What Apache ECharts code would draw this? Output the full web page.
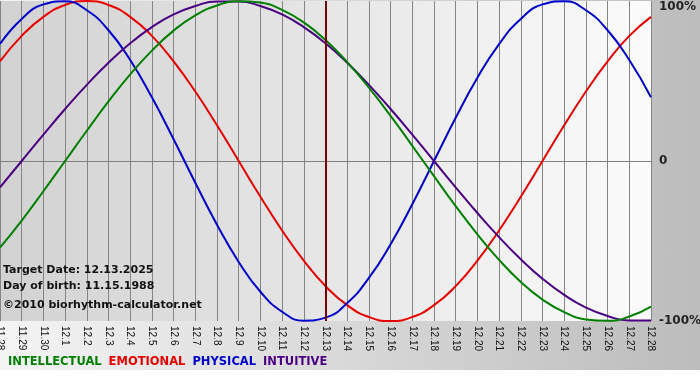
<!DOCTYPE html>
<html>
<head>
<meta charset="utf-8">
<script src="https://cdn.jsdelivr.net/npm/echarts@6/dist/echarts.min.js"></script>
<style>
  html, body { margin: 0; padding: 0; background: #fff; }
  #chart {
    width: 700px; height: 380px;
    background: linear-gradient(to right, #f4f4f4, #bcbcbc) 0 0 / 100% 370px no-repeat, #fff;
  }
</style>
</head>
<body>
<div id="chart"></div>
<script>
// 日期 (x 轴)
var days = ['11.28','11.29','11.30','12.1','12.2','12.3','12.4','12.5','12.6','12.7','12.8',
            '12.9','12.10','12.11','12.12','12.13','12.14','12.15','12.16','12.17','12.18',
            '12.19','12.20','12.21','12.22','12.23','12.24','12.25','12.26','12.27','12.28'];
var targetDay = '12.13';

// 各周期数值 (%)
var intellectual = [-54.1,-37.2,-18.9,0,18.9,37.2,54.1,69.0,81.5,91.0,97.2,99.9,99.0,94.5,86.6,
                    75.6,61.8,45.8,28.2,9.5,-9.5,-28.2,-45.8,-61.8,-75.6,-86.6,-94.5,-99.0,
                    -99.9,-97.2,-91.0];
var emotional = [62.3,78.2,90.1,97.5,100,97.5,90.1,78.2,62.3,43.4,22.3,0,-22.3,-43.4,-62.3,
                 -78.2,-90.1,-97.5,-100,-97.5,-90.1,-78.2,-62.3,-43.4,-22.3,0,22.3,43.4,
                 62.3,78.2,90.1];
var physical = [73.1,88.8,97.9,99.8,94.2,81.7,63.1,39.8,13.6,-13.6,-39.8,-63.1,-81.7,-94.2,
                -99.8,-97.9,-88.8,-73.1,-52.0,-27.0,0,27.0,52.0,73.1,88.8,97.9,99.8,94.2,
                81.7,63.1,39.8];
var intuitive = [-16.5,0,16.5,32.5,47.6,61.4,73.6,83.7,91.6,96.9,99.7,99.7,96.9,91.6,83.7,
                 73.6,61.4,47.6,32.5,16.5,0,-16.5,-32.5,-47.6,-61.4,-73.6,-83.7,-91.6,
                 -96.9,-99.7,-99.7];

var seriesNames = ['INTELLECTUAL','EMOTIONAL','PHYSICAL','INTUITIVE'];
var seriesColors = ['#008000','#e80000','#0000cc','#4b0082'];
var yTicks = [-100, 0, 100];

var infoLines = ['Target Date: 12.13.2025', 'Day of birth: 11.15.1988', '\u00a92010 biorhythm-calculator.net'];

var chart = echarts.init(document.getElementById('chart'));

function lineSeries(idx, data) {
    return {
        name: seriesNames[idx],
        type: 'line',
        data: data,
        smooth: 0.5,
        symbol: 'none',
        clip: false,
        lineStyle: { color: seriesColors[idx], width: 2 },
        itemStyle: { color: seriesColors[idx] }
    };
}

var sPhys = lineSeries(2, physical);
var sEmo = lineSeries(1, emotional);
var sInt = lineSeries(0, intellectual);
var sIntu = lineSeries(3, intuitive);
// 当天竖线
sInt.markLine = {
    silent: true,
    symbol: 'none',
    label: { show: false },
    lineStyle: { color: '#800000', width: 2, type: 'solid' },
    data: [{ xAxis: targetDay }]
};

var option = {
    animation: false,
    backgroundColor: 'transparent',
    grid: {
        left: 0, right: 49, top: 1, bottom: 59,
        outerBoundsMode: 'none',
        containLabel: false,
        show: true,
        borderWidth: 0,
        backgroundColor: new echarts.graphic.LinearGradient(0, 0, 1, 0, [
            { offset: 0, color: '#d2d2d2' },
            { offset: 1, color: '#fbfbfb' }
        ])
    },
    legend: {
        left: 3,
        top: 356,
        padding: 0,
        icon: 'none',
        itemWidth: 0,
        itemHeight: 10,
        itemGap: 2,
        selectedMode: false,
        textStyle: { fontFamily: 'DejaVu Sans', fontWeight: 'bold', fontSize: 11.5 },
        data: seriesNames.map(function (n, i) {
            return { name: n, textStyle: { color: seriesColors[i] } };
        })
    },
    xAxis: {
        type: 'category',
        data: days,
        boundaryGap: false,
        axisLine: { lineStyle: { color: '#808080', width: 1 } },
        axisTick: { show: true, length: 4, lineStyle: { color: '#808080' } },
        splitLine: { show: true, lineStyle: { color: '#858585', width: 1 } },
        axisLabel: {
            interval: 0,
            rotate: -90,
            margin: 5,
            color: '#111',
            fontFamily: 'Liberation Sans',
            fontSize: 10
        }
    },
    yAxis: {
        type: 'value',
        position: 'right',
        min: yTicks[0],
        max: yTicks[2],
        interval: 100,
        axisLine: { show: false },
        axisTick: { show: false },
        splitLine: {
            show: true,
            lineStyle: { color: ['rgba(0,0,0,0)', '#858585', 'rgba(0,0,0,0)'], width: 1 }
        },
        axisLabel: {
            margin: 8,
            color: '#222',
            fontFamily: 'DejaVu Sans',
            fontWeight: 'bold',
            fontSize: 12,
            formatter: function (v) {
                if (v === 0) return '0';
                if (v === yTicks[2]) return '{top|' + v + '%}';
                return v + '%';
            },
            rich: {
                top: {
                    fontFamily: 'DejaVu Sans',
                    fontWeight: 'bold',
                    fontSize: 12,
                    color: '#222',
                    padding: [12, 0, 0, 0]
                }
            }
        }
    },
    graphic: infoLines.map(function (t, i) {
        return {
            type: 'text',
            left: 3,
            top: [265, 281, 300][i],
            z: 100,
            style: {
                text: t,
                fill: '#111',
                font: 'bold 11px "DejaVu Sans"'
            }
        };
    }),
    series: [sEmo, sPhys, sIntu, sInt]
};

chart.setOption(option);
</script>
</body>
</html>
